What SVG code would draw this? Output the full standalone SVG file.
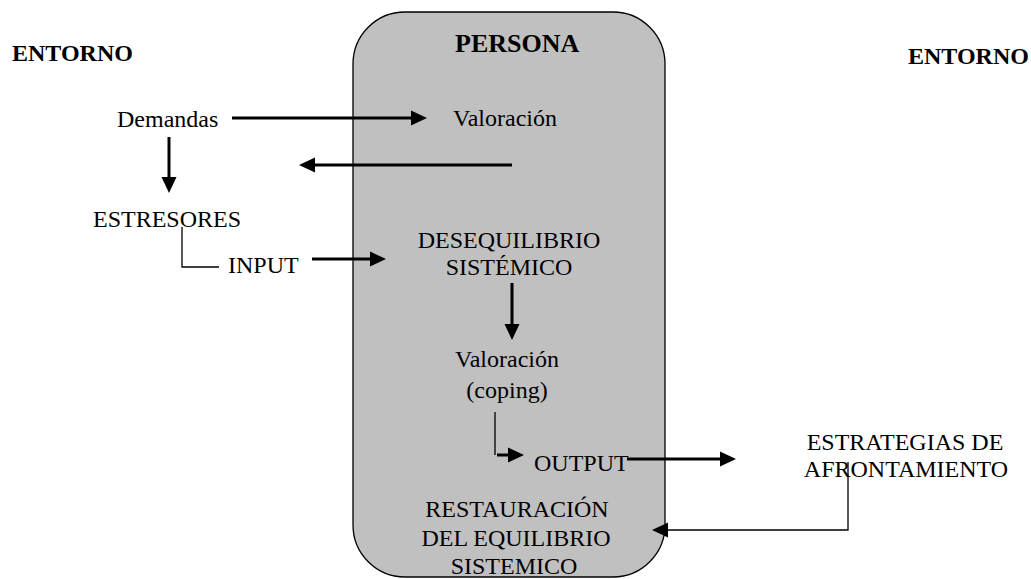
<svg xmlns="http://www.w3.org/2000/svg" width="1031" height="579" viewBox="0 0 1031 579">
<style>
text{font-family:"Liberation Serif","Times New Roman",serif;font-size:24px;fill:#000}
.b{font-weight:bold}
.th{stroke:#000;stroke-width:3;fill:none}
.tn{stroke:#000;stroke-width:1.3;fill:none}
</style>
<defs>
<marker id="ah" markerUnits="userSpaceOnUse" markerWidth="16" markerHeight="16" refX="7" refY="8" orient="auto">
<path d="M0,0.5 L16,8 L0,15.5 z" fill="#000"/>
</marker>
</defs>
<rect width="1031" height="579" fill="#fff"/>
<g id="persona">
<rect x="353" y="12" width="312" height="565" rx="52" ry="52" fill="#c0c0c0" stroke="#000" stroke-width="1.3"/>
<text class="b" x="455" y="52" style="font-size:26px">PERSONA</text>
</g>
<g id="entorno-left"><text class="b" x="12" y="61">ENTORNO</text></g>
<g id="entorno-right"><text class="b" x="908" y="64">ENTORNO</text></g>
<g id="demandas"><text x="117" y="127">Demandas</text></g>
<g id="valoracion1"><text x="453" y="126">Valoración</text></g>
<g id="estresores"><text x="93" y="227">ESTRESORES</text></g>
<g id="input"><text x="228" y="273">INPUT</text></g>
<g id="desequilibrio"><text x="509" y="248" text-anchor="middle">DESEQUILIBRIO</text><text x="509" y="275" text-anchor="middle">SISTÉMICO</text></g>
<g id="valoracion2"><text x="507" y="367" text-anchor="middle">Valoración</text><text x="507" y="398" text-anchor="middle">(coping)</text></g>
<g id="output"><text x="534" y="471">OUTPUT</text></g>
<g id="estrategias"><text x="905" y="450" text-anchor="middle">ESTRATEGIAS DE</text><text x="906" y="477" text-anchor="middle">AFRONTAMIENTO</text></g>
<g id="restauracion"><text x="517" y="517" text-anchor="middle">RESTAURACIÓN</text><text x="516" y="546" text-anchor="middle">DEL EQUILIBRIO</text><text x="514" y="574" text-anchor="middle">SISTEMICO</text></g>
<g id="connectors">
<line class="th" x1="232" y1="118" x2="418" y2="118" marker-end="url(#ah)"/>
<line class="th" x1="512" y1="165" x2="308" y2="165" marker-end="url(#ah)"/>
<line class="th" x1="169" y1="137" x2="169" y2="184" marker-end="url(#ah)"/>
<polyline class="tn" points="182,227 182,267 219,267"/>
<line class="th" x1="312" y1="259" x2="377" y2="259" marker-end="url(#ah)"/>
<line class="th" x1="512" y1="283" x2="512" y2="331" marker-end="url(#ah)"/>
<polyline class="tn" points="495,412 495,455"/>
<line class="th" x1="497" y1="455" x2="515" y2="455" marker-end="url(#ah)"/>
<line class="th" x1="627" y1="459" x2="727" y2="459" marker-end="url(#ah)"/>
<polyline class="tn" points="848,462 848,530 668,530"/>
<line class="th" x1="668" y1="530" x2="661" y2="530" marker-end="url(#ah)"/>
</g>
</svg>
